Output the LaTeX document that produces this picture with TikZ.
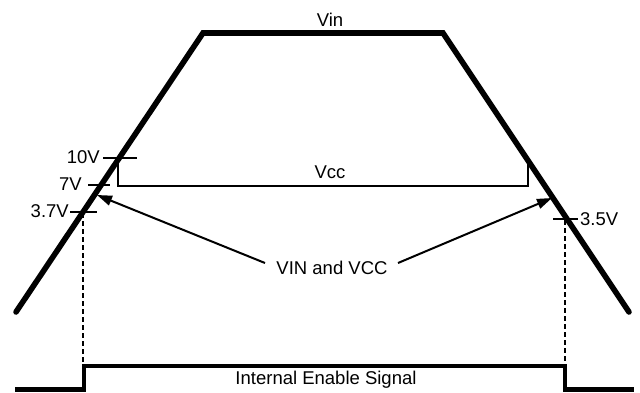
\documentclass[tikz,border=0pt]{standalone}
\usepackage{fontspec}
\setmainfont{Liberation Sans}
\usetikzlibrary{arrows.meta}
\begin{document}
\begin{tikzpicture}[x=1pt,y=-1pt,
  lbl/.style={inner sep=0pt,font=\fontsize{18.5}{20}\selectfont},
  heavy/.style={line width=5.6pt,line cap=round,line join=miter},
  sig/.style={line width=4.4pt,line join=miter},
  thin/.style={line width=2pt},
  tick/.style={line width=1.8pt},
  guide/.style={line width=1.6pt,dash pattern=on 5pt off 3pt},
  pointer/.style={line width=2pt,-{Triangle[length=15pt,width=10pt]}}]
\useasboundingbox (0,0) rectangle (640,392);
% Vin trapezoid
\coordinate (bl) at (16,312);
\coordinate (tl) at (203,33);
\coordinate (tr) at (443,33);
\coordinate (br) at (629,312);
\draw[heavy] (bl) -- (tl) -- (tr) -- (br);
\node[lbl] (vin) at (330,20) {Vin};
% Vcc bracket
\coordinate (c1) at (118,158);
\coordinate (c2) at (118,186);
\coordinate (c3) at (528,186);
\coordinate (c4) at (528,160);
\draw[thin] (c1) -- (c2) -- (c3) -- (c4);
\node[lbl] (vcc) at (330,172) {Vcc};
% ticks
\coordinate (t10a) at (103,158); \coordinate (t10b) at (137,158);
\coordinate (t7a) at (88,185); \coordinate (t7b) at (110,185);
\coordinate (t37a) at (70,212); \coordinate (t37b) at (97,212);
\coordinate (t35a) at (553,219); \coordinate (t35b) at (578,219);
\draw[tick] (t10a) -- (t10b);
\draw[tick] (t7a) -- (t7b);
\draw[tick] (t37a) -- (t37b);
\draw[tick] (t35a) -- (t35b);
\node[lbl,anchor=east] (l10) at (100,157) {10V};
\node[lbl,anchor=east] (l7) at (82,184) {7V};
\node[lbl,anchor=east] (l37) at (69,211) {3.7V};
\node[lbl,anchor=west] (l35) at (580,219) {3.5V};
% arrows
\node[lbl] (both) at (332,268) {VIN and VCC};
\coordinate (aL) at (97,195);
\coordinate (aR) at (552,198);
\coordinate (sL) at (265,263);
\coordinate (sR) at (398,263);
\draw[pointer] (sL) -- (aL);
\draw[pointer] (sR) -- (aR);
% guides
\coordinate (g1a) at (83,213); \coordinate (g1b) at (83,364);
\coordinate (g2a) at (565,220); \coordinate (g2b) at (565,364);
\draw[guide] (g1a) -- (g1b);
\draw[guide] (g2a) -- (g2b);
% enable signal
\coordinate (e0) at (15,389.5);
\coordinate (e1) at (84,389.5);
\coordinate (e2) at (84,366);
\coordinate (e3) at (565,366);
\coordinate (e4) at (565,389.5);
\coordinate (e5) at (634,389.5);
\draw[sig] (e0) -- (e1) -- (e2) -- (e3) -- (e4) -- (e5);
\node[lbl] (en) at (326,380) {Internal Enable Signal};
\end{tikzpicture}
\end{document}
